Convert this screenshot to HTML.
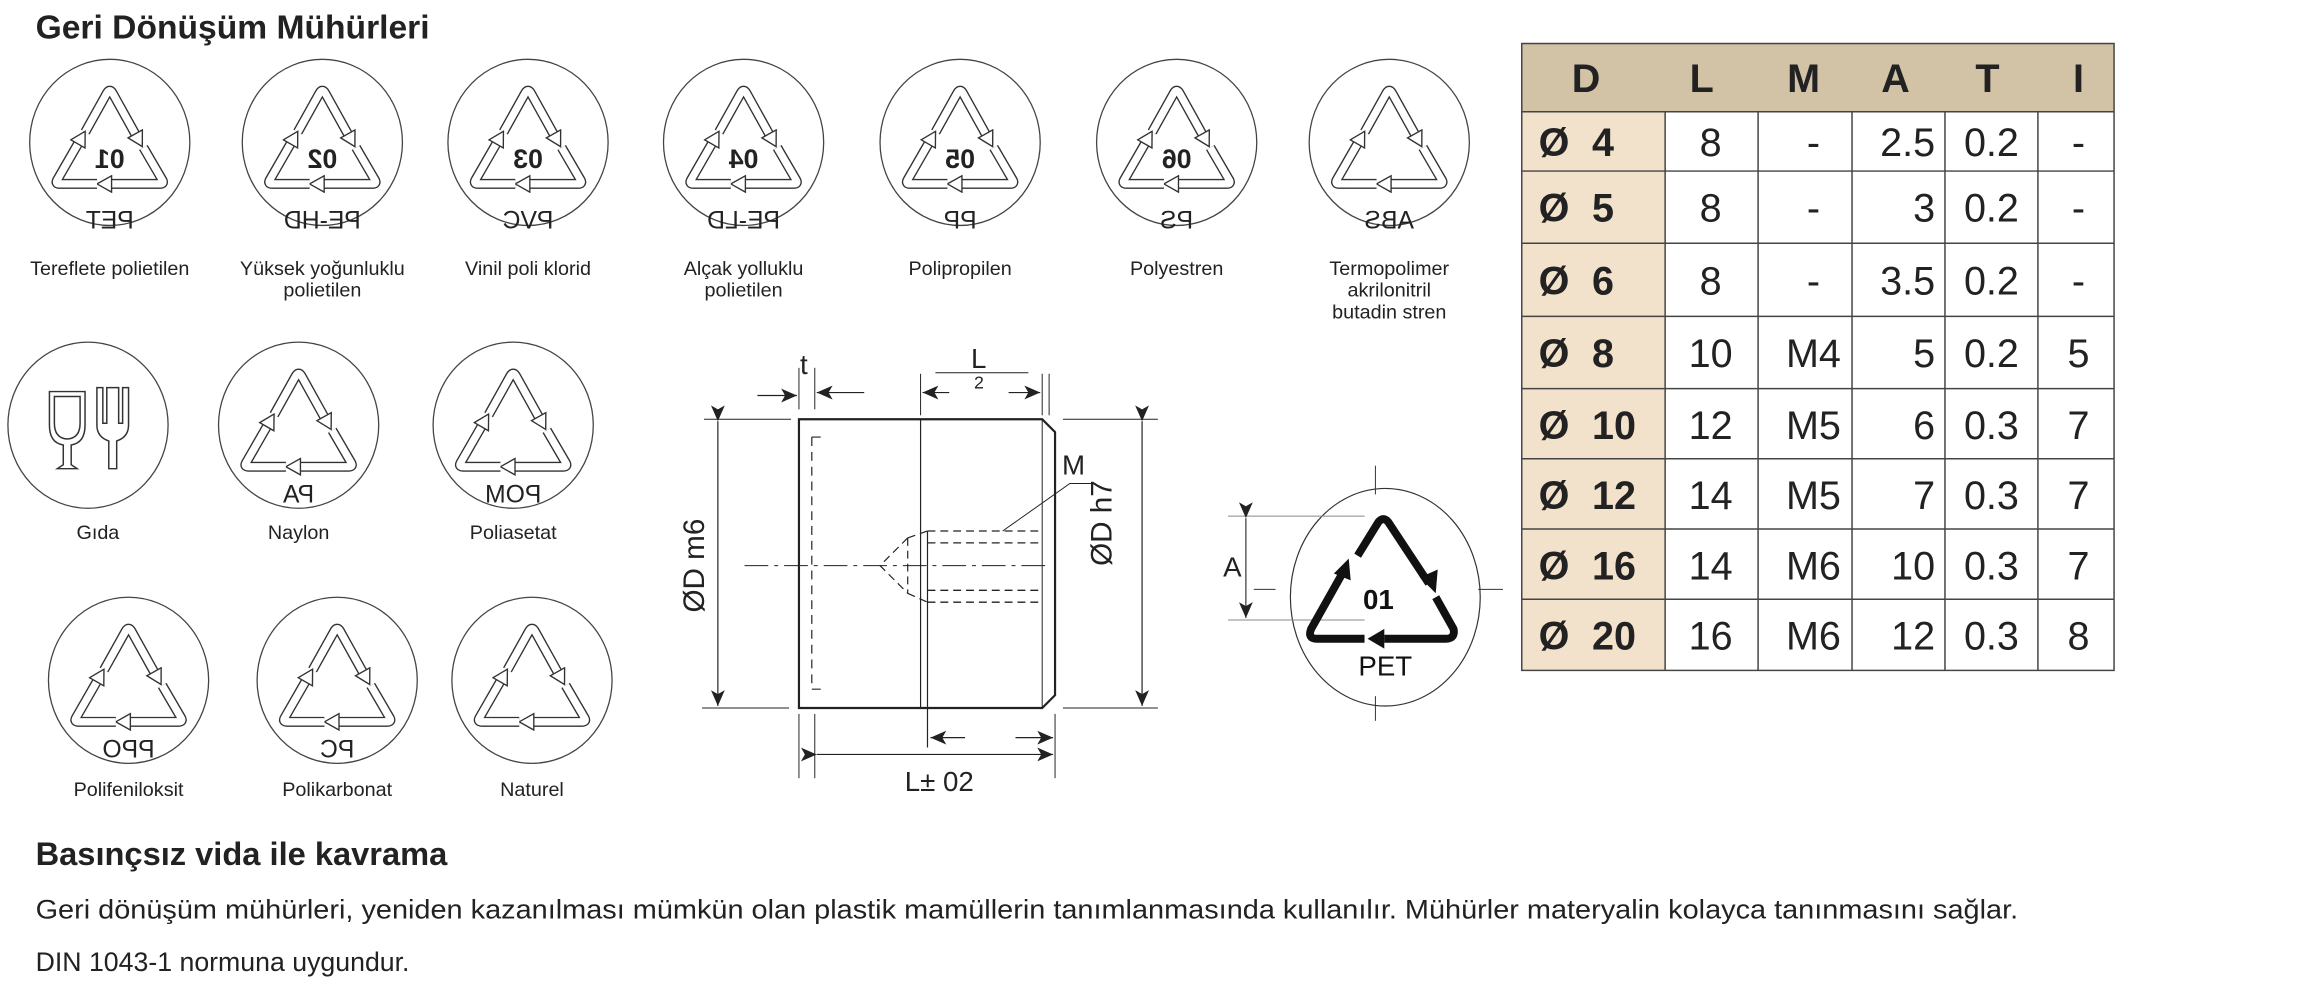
<!DOCTYPE html>
<html><head><meta charset="utf-8"><style>
html,body{margin:0;padding:0;background:#fff;}
body{width:2298px;height:996px;overflow:hidden;position:relative;font-family:"Liberation Sans",sans-serif;}
svg{position:absolute;left:0;top:0;}
.lb{font-size:20px;fill:#222;text-anchor:middle;}
.dl{font-size:28px;fill:#222;}
</style></head><body>
<svg width="2298" height="996" viewBox="0 0 2298 996" xmlns="http://www.w3.org/2000/svg" font-family="Liberation Sans, sans-serif">
<defs>
<marker id="ah" markerUnits="userSpaceOnUse" markerWidth="30" markerHeight="30" refX="1" refY="10" orient="auto" viewBox="0 0 30 30">
<path d="M1,1 L17,10 L1,19 Z" fill="#fff" stroke="#333" stroke-width="1.5"/>
</marker>
<g id="tri">
<g fill="none" stroke-linejoin="round" stroke-linecap="butt">
<path d="M-27,-7 L-3,-50 Q0,-55 3,-50 L28,-5" stroke="#333" stroke-width="11"/>
<path d="M-27,-7 L-3,-50 Q0,-55 3,-50 L28,-5" stroke="#fff" stroke-width="8" marker-end="url(#ah)"/>
<path d="M37,10 L58,46 Q60,50 55,50 L2,50" stroke="#333" stroke-width="11"/>
<path d="M37,10 L58,46 Q60,50 55,50 L2,50" stroke="#fff" stroke-width="8" marker-end="url(#ah)"/>
<path d="M-14,50 L-55,50 Q-60,50 -58,46 L-35,6" stroke="#333" stroke-width="11"/>
<path d="M-14,50 L-55,50 Q-60,50 -58,46 L-35,6" stroke="#fff" stroke-width="8" marker-end="url(#ah)"/>
</g>
</g>
<marker id="da" markerUnits="userSpaceOnUse" markerWidth="20" markerHeight="14" refX="16" refY="7" orient="auto" viewBox="0 0 20 14">
<path d="M0,0 L16,7 L0,14 L4,7 Z" fill="#222"/>
</marker>
</defs>
<g transform="scale(0.9888)">
<text x="36" y="39" font-size="34" font-weight="bold" fill="#222">Geri Dönüşüm Mühürleri</text>

<g stroke="#444" stroke-width="1.3" fill="none">
<ellipse cx="111" cy="144" rx="81" ry="84"/>
<ellipse cx="326" cy="144" rx="81" ry="84"/>
<ellipse cx="534" cy="144" rx="81" ry="84"/>
<ellipse cx="752" cy="144" rx="81" ry="84"/>
<ellipse cx="971" cy="144" rx="81" ry="84"/>
<ellipse cx="1190" cy="144" rx="81" ry="84"/>
<ellipse cx="1405" cy="144" rx="81" ry="84"/>
<ellipse cx="89" cy="430" rx="81" ry="84"/>
<ellipse cx="302" cy="430" rx="81" ry="84"/>
<ellipse cx="519" cy="430" rx="81" ry="84"/>
<ellipse cx="130" cy="688" rx="81" ry="84"/>
<ellipse cx="341" cy="688" rx="81" ry="84"/>
<ellipse cx="538" cy="688" rx="81" ry="84"/>
</g>
<use href="#tri" transform="translate(111,140) scale(0.92)"/>
<use href="#tri" transform="translate(326,140) scale(0.92)"/>
<use href="#tri" transform="translate(534,140) scale(0.92)"/>
<use href="#tri" transform="translate(752,140) scale(0.92)"/>
<use href="#tri" transform="translate(971,140) scale(0.92)"/>
<use href="#tri" transform="translate(1190,140) scale(0.92)"/>
<use href="#tri" transform="translate(1405,140) scale(0.92)"/>
<use href="#tri" transform="translate(302,426) scale(0.92)"/>
<use href="#tri" transform="translate(519,426) scale(0.92)"/>
<use href="#tri" transform="translate(130,684) scale(0.92)"/>
<use href="#tri" transform="translate(341,684) scale(0.92)"/>
<use href="#tri" transform="translate(538,684) scale(0.92)"/>

<g font-weight="bold" font-size="27" fill="#222" text-anchor="middle">
<text transform="translate(111,170) scale(-1,1)">01</text>
<text transform="translate(326,170) scale(-1,1)">02</text>
<text transform="translate(534,170) scale(-1,1)">03</text>
<text transform="translate(752,170) scale(-1,1)">04</text>
<text transform="translate(971,170) scale(-1,1)">05</text>
<text transform="translate(1190,170) scale(-1,1)">06</text>
</g>
<g font-size="25" fill="#222" text-anchor="middle">
<text transform="translate(111,231) scale(-1,1)">PET</text>
<text transform="translate(326,231) scale(-1,1)">PE-HD</text>
<text transform="translate(534,231) scale(-1,1)">PVC</text>
<text transform="translate(752,231) scale(-1,1)">PE-LD</text>
<text transform="translate(971,231) scale(-1,1)">PP</text>
<text transform="translate(1190,231) scale(-1,1)">PS</text>
<text transform="translate(1405,231) scale(-1,1)">ABS</text>
<text transform="translate(302,508) scale(-1,1)">PA</text>
<text transform="translate(519,508) scale(-1,1)">POM</text>
<text transform="translate(130,766) scale(-1,1)">PPO</text>
<text transform="translate(341,766) scale(-1,1)">PC</text>
</g>

<g fill="none" stroke="#333" stroke-width="1.5">
<path d="M50,396 L86,396 L86,430 Q86,448 72,450 L72,470 L78,474 L58,474 L64,470 L64,450 Q50,448 50,430 Z"/>
<path d="M55,401 L81,401 L81,428 Q81,443 68,444 Q55,443 55,428 Z"/>
<path d="M98,392 L98,430 Q98,442 110,446 L110,474 L118,474 L118,446 Q130,442 130,430 L130,392 L124,392 L124,428 L120,428 L120,392 L108,392 L108,428 L104,428 L104,392 Z"/>
</g>

<g class="lb">
<text x="111" y="278">Tereflete polietilen</text>
<text x="326" y="278">Yüksek yoğunluklu</text>
<text x="326" y="300">polietilen</text>
<text x="534" y="278">Vinil poli klorid</text>
<text x="752" y="278">Alçak yolluklu</text>
<text x="752" y="300">polietilen</text>
<text x="971" y="278">Polipropilen</text>
<text x="1190" y="278">Polyestren</text>
<text x="1405" y="278">Termopolimer</text>
<text x="1405" y="300">akrilonitril</text>
<text x="1405" y="322">butadin stren</text>
<text x="99" y="545">Gıda</text>
<text x="302" y="545">Naylon</text>
<text x="519" y="545">Poliasetat</text>
<text x="130" y="805">Polifeniloksit</text>
<text x="341" y="805">Polikarbonat</text>
<text x="538" y="805">Naturel</text>
</g>

<g stroke="#222" fill="none">
<path d="M808,424 L1054,424 L1067,437 L1067,703 L1054,716 L808,716 Z" stroke-width="2.2"/>
<line x1="1054" y1="424" x2="1054" y2="716" stroke-width="1"/>
<line x1="931" y1="424" x2="931" y2="716" stroke-width="1.2"/>
<path d="M821,442 L821,697 M821,442 L830,442 M821,697 L830,697" stroke-width="1.2" stroke-dasharray="9,6"/>
<line x1="753" y1="572" x2="1058" y2="572" stroke-width="1" stroke-dasharray="24,6,4,6"/>
<path d="M938,537 L1054,537 M938,549 L1054,549 M938,597 L1054,597 M938,609 L1054,609" stroke-width="1.3" stroke-dasharray="8,5"/>
<path d="M918,544 L918,600 M918,544 L890,572 L918,600 M918,544 L938,537 M918,600 L938,609" stroke-width="1.2" stroke-dasharray="8,5"/>
<line x1="938" y1="537" x2="938" y2="756" stroke-width="1.2"/>
<path d="M1014,537 L1082,489 L1108,489" stroke-width="1"/>
<line x1="712" y1="424" x2="800" y2="424" stroke-width="1"/>
<line x1="710" y1="716" x2="798" y2="716" stroke-width="1"/>
<line x1="1075" y1="424" x2="1171" y2="424" stroke-width="1"/>
<line x1="1075" y1="716" x2="1171" y2="716" stroke-width="1"/>
<line x1="726" y1="426" x2="726" y2="714" stroke-width="1.2" marker-start="url(#da)" marker-end="url(#da)"/>
<line x1="1155" y1="426" x2="1155" y2="714" stroke-width="1.2" marker-start="url(#da)" marker-end="url(#da)"/>
<line x1="808" y1="372" x2="808" y2="414" stroke-width="1"/>
<line x1="824" y1="372" x2="824" y2="414" stroke-width="1"/>
<line x1="766" y1="400" x2="806" y2="400" stroke-width="1.2" marker-end="url(#da)"/>
<line x1="874" y1="397" x2="826" y2="397" stroke-width="1.2" marker-end="url(#da)"/>
<line x1="931" y1="378" x2="931" y2="420" stroke-width="1"/>
<line x1="1054" y1="378" x2="1054" y2="420" stroke-width="1"/>
<line x1="1061" y1="378" x2="1061" y2="420" stroke-width="1"/>
<line x1="946" y1="377" x2="1040" y2="377" stroke-width="1"/>
<line x1="960" y1="397" x2="933" y2="397" stroke-width="1.2" marker-end="url(#da)"/>
<line x1="1020" y1="397" x2="1052" y2="397" stroke-width="1.2" marker-end="url(#da)"/>
<line x1="808" y1="722" x2="808" y2="787" stroke-width="1"/>
<line x1="824" y1="722" x2="824" y2="787" stroke-width="1"/>
<line x1="1067" y1="722" x2="1067" y2="787" stroke-width="1"/>
<line x1="826" y1="763" x2="1065" y2="763" stroke-width="1.2" marker-start="url(#da)" marker-end="url(#da)"/>
<line x1="976" y1="746" x2="941" y2="746" stroke-width="1.2" marker-end="url(#da)"/>
<line x1="1027" y1="746" x2="1065" y2="746" stroke-width="1.2" marker-end="url(#da)"/>
</g>
<g class="dl">
<text x="809" y="378">t</text>
<text x="982" y="372">L</text>
<text x="985" y="393" font-size="18">2</text>
<text x="1074" y="480">M</text>
<text x="915" y="800">L± 02</text>
<text transform="translate(712,572) rotate(-90)" text-anchor="middle" font-size="30">ØD m6</text>
<text transform="translate(1124,529) rotate(-90)" text-anchor="middle" font-size="30">ØD h7</text>
<text x="1237" y="583">A</text>
</g>

<g stroke="#333" fill="none">
<ellipse cx="1401" cy="604" rx="96" ry="110" stroke-width="1.2"/>
<line x1="1391" y1="471" x2="1391" y2="500" stroke-width="1"/>
<line x1="1391" y1="704" x2="1391" y2="729" stroke-width="1"/>
<line x1="1268" y1="596" x2="1290" y2="596" stroke-width="1"/>
<line x1="1495" y1="596" x2="1520" y2="596" stroke-width="1"/>
<line x1="1242" y1="522" x2="1380" y2="522" stroke-width="1" stroke="#888"/>
<line x1="1242" y1="627" x2="1380" y2="627" stroke-width="1" stroke="#888"/>
<line x1="1260" y1="524" x2="1260" y2="625" stroke-width="1.2" marker-start="url(#da)" marker-end="url(#da)"/>
</g>
<g fill="none" stroke="#111" stroke-width="8" stroke-linejoin="round">
<path d="M1373,562 L1394,528 Q1399,522 1404,528 L1445,590"/>
<path d="M1452,604 L1470,636 Q1472,646 1462,646 L1400,646"/>
<path d="M1380,646 L1332,646 Q1322,646 1326,636 L1357,581"/>
</g>
<g fill="#111">
<path d="M1436,584 L1454,576 L1452,600 Z"/>
<path d="M1400,636 L1400,656 L1383,646 Z"/>
<path d="M1349,580 L1366,587 L1364,565 Z"/>
</g>
<text x="1394" y="616" font-size="28" font-weight="bold" fill="#111" text-anchor="middle">01</text>
<text x="1401" y="683" font-size="28" fill="#111" text-anchor="middle">PET</text>

<rect x="1539" y="44" width="599" height="69" fill="#d2c2a6"/>
<rect x="1539" y="113" width="145" height="565" fill="#f2e2cc"/>
<g stroke="#444" stroke-width="1.5" fill="none">
<rect x="1539" y="44" width="599" height="634"/>
<line x1="1539" y1="113" x2="2138" y2="113"/>
<line x1="1539" y1="173" x2="2138" y2="173"/>
<line x1="1539" y1="246" x2="2138" y2="246"/>
<line x1="1539" y1="320" x2="2138" y2="320"/>
<line x1="1539" y1="393" x2="2138" y2="393"/>
<line x1="1539" y1="464" x2="2138" y2="464"/>
<line x1="1539" y1="535" x2="2138" y2="535"/>
<line x1="1539" y1="606" x2="2138" y2="606"/>
<line x1="1684" y1="113" x2="1684" y2="678"/>
<line x1="1778" y1="113" x2="1778" y2="678"/>
<line x1="1873" y1="113" x2="1873" y2="678"/>
<line x1="1967" y1="113" x2="1967" y2="678"/>
<line x1="2061" y1="113" x2="2061" y2="678"/>
</g>
<g font-size="40" font-weight="bold" fill="#222" text-anchor="middle">
<text x="1604" y="93">D</text><text x="1721" y="93">L</text><text x="1824" y="93">M</text>
<text x="1917" y="93">A</text><text x="2010" y="93">T</text><text x="2102" y="93">I</text>
</g>
<g font-size="40" fill="#222">
<g font-weight="bold">
<text x="1556" y="158">Ø</text><text x="1610" y="158">4</text>
<text x="1556" y="224">Ø</text><text x="1610" y="224">5</text>
<text x="1556" y="298">Ø</text><text x="1610" y="298">6</text>
<text x="1556" y="371">Ø</text><text x="1610" y="371">8</text>
<text x="1556" y="444">Ø</text><text x="1610" y="444">10</text>
<text x="1556" y="515">Ø</text><text x="1610" y="515">12</text>
<text x="1556" y="586">Ø</text><text x="1610" y="586">16</text>
<text x="1556" y="657">Ø</text><text x="1610" y="657">20</text>
</g>
<g text-anchor="middle">
<text x="1730" y="158">8</text><text x="1730" y="224">8</text><text x="1730" y="298">8</text>
<text x="1730" y="371">10</text><text x="1730" y="444">12</text><text x="1730" y="515">14</text>
<text x="1730" y="586">14</text><text x="1730" y="657">16</text>
<text x="1834" y="158">-</text><text x="1834" y="224">-</text><text x="1834" y="298">-</text>
<text x="1834" y="371">M4</text><text x="1834" y="444">M5</text><text x="1834" y="515">M5</text>
<text x="1834" y="586">M6</text><text x="1834" y="657">M6</text>
<text x="2014" y="158">0.2</text><text x="2014" y="224">0.2</text><text x="2014" y="298">0.2</text>
<text x="2014" y="371">0.2</text><text x="2014" y="444">0.3</text><text x="2014" y="515">0.3</text>
<text x="2014" y="586">0.3</text><text x="2014" y="657">0.3</text>
<text x="2102" y="158">-</text><text x="2102" y="224">-</text><text x="2102" y="298">-</text>
<text x="2102" y="371">5</text><text x="2102" y="444">7</text><text x="2102" y="515">7</text>
<text x="2102" y="586">7</text><text x="2102" y="657">8</text>
</g>
<g text-anchor="end">
<text x="1957" y="158">2.5</text><text x="1957" y="224">3</text><text x="1957" y="298">3.5</text>
<text x="1957" y="371">5</text><text x="1957" y="444">6</text><text x="1957" y="515">7</text>
<text x="1957" y="586">10</text><text x="1957" y="657">12</text>
</g>
</g>

<text x="36" y="875" font-size="33" font-weight="bold" fill="#222">Basınçsız vida ile kavrama</text>
<text x="36" y="929" font-size="27" fill="#222" textLength="2005" lengthAdjust="spacingAndGlyphs">Geri dönüşüm mühürleri, yeniden kazanılması mümkün olan plastik mamüllerin tanımlanmasında kullanılır. Mühürler materyalin kolayca tanınmasını sağlar.</text>
<text x="36" y="982" font-size="27" fill="#222">DIN 1043-1 normuna uygundur.</text>
</g>
</svg>
</body></html>
